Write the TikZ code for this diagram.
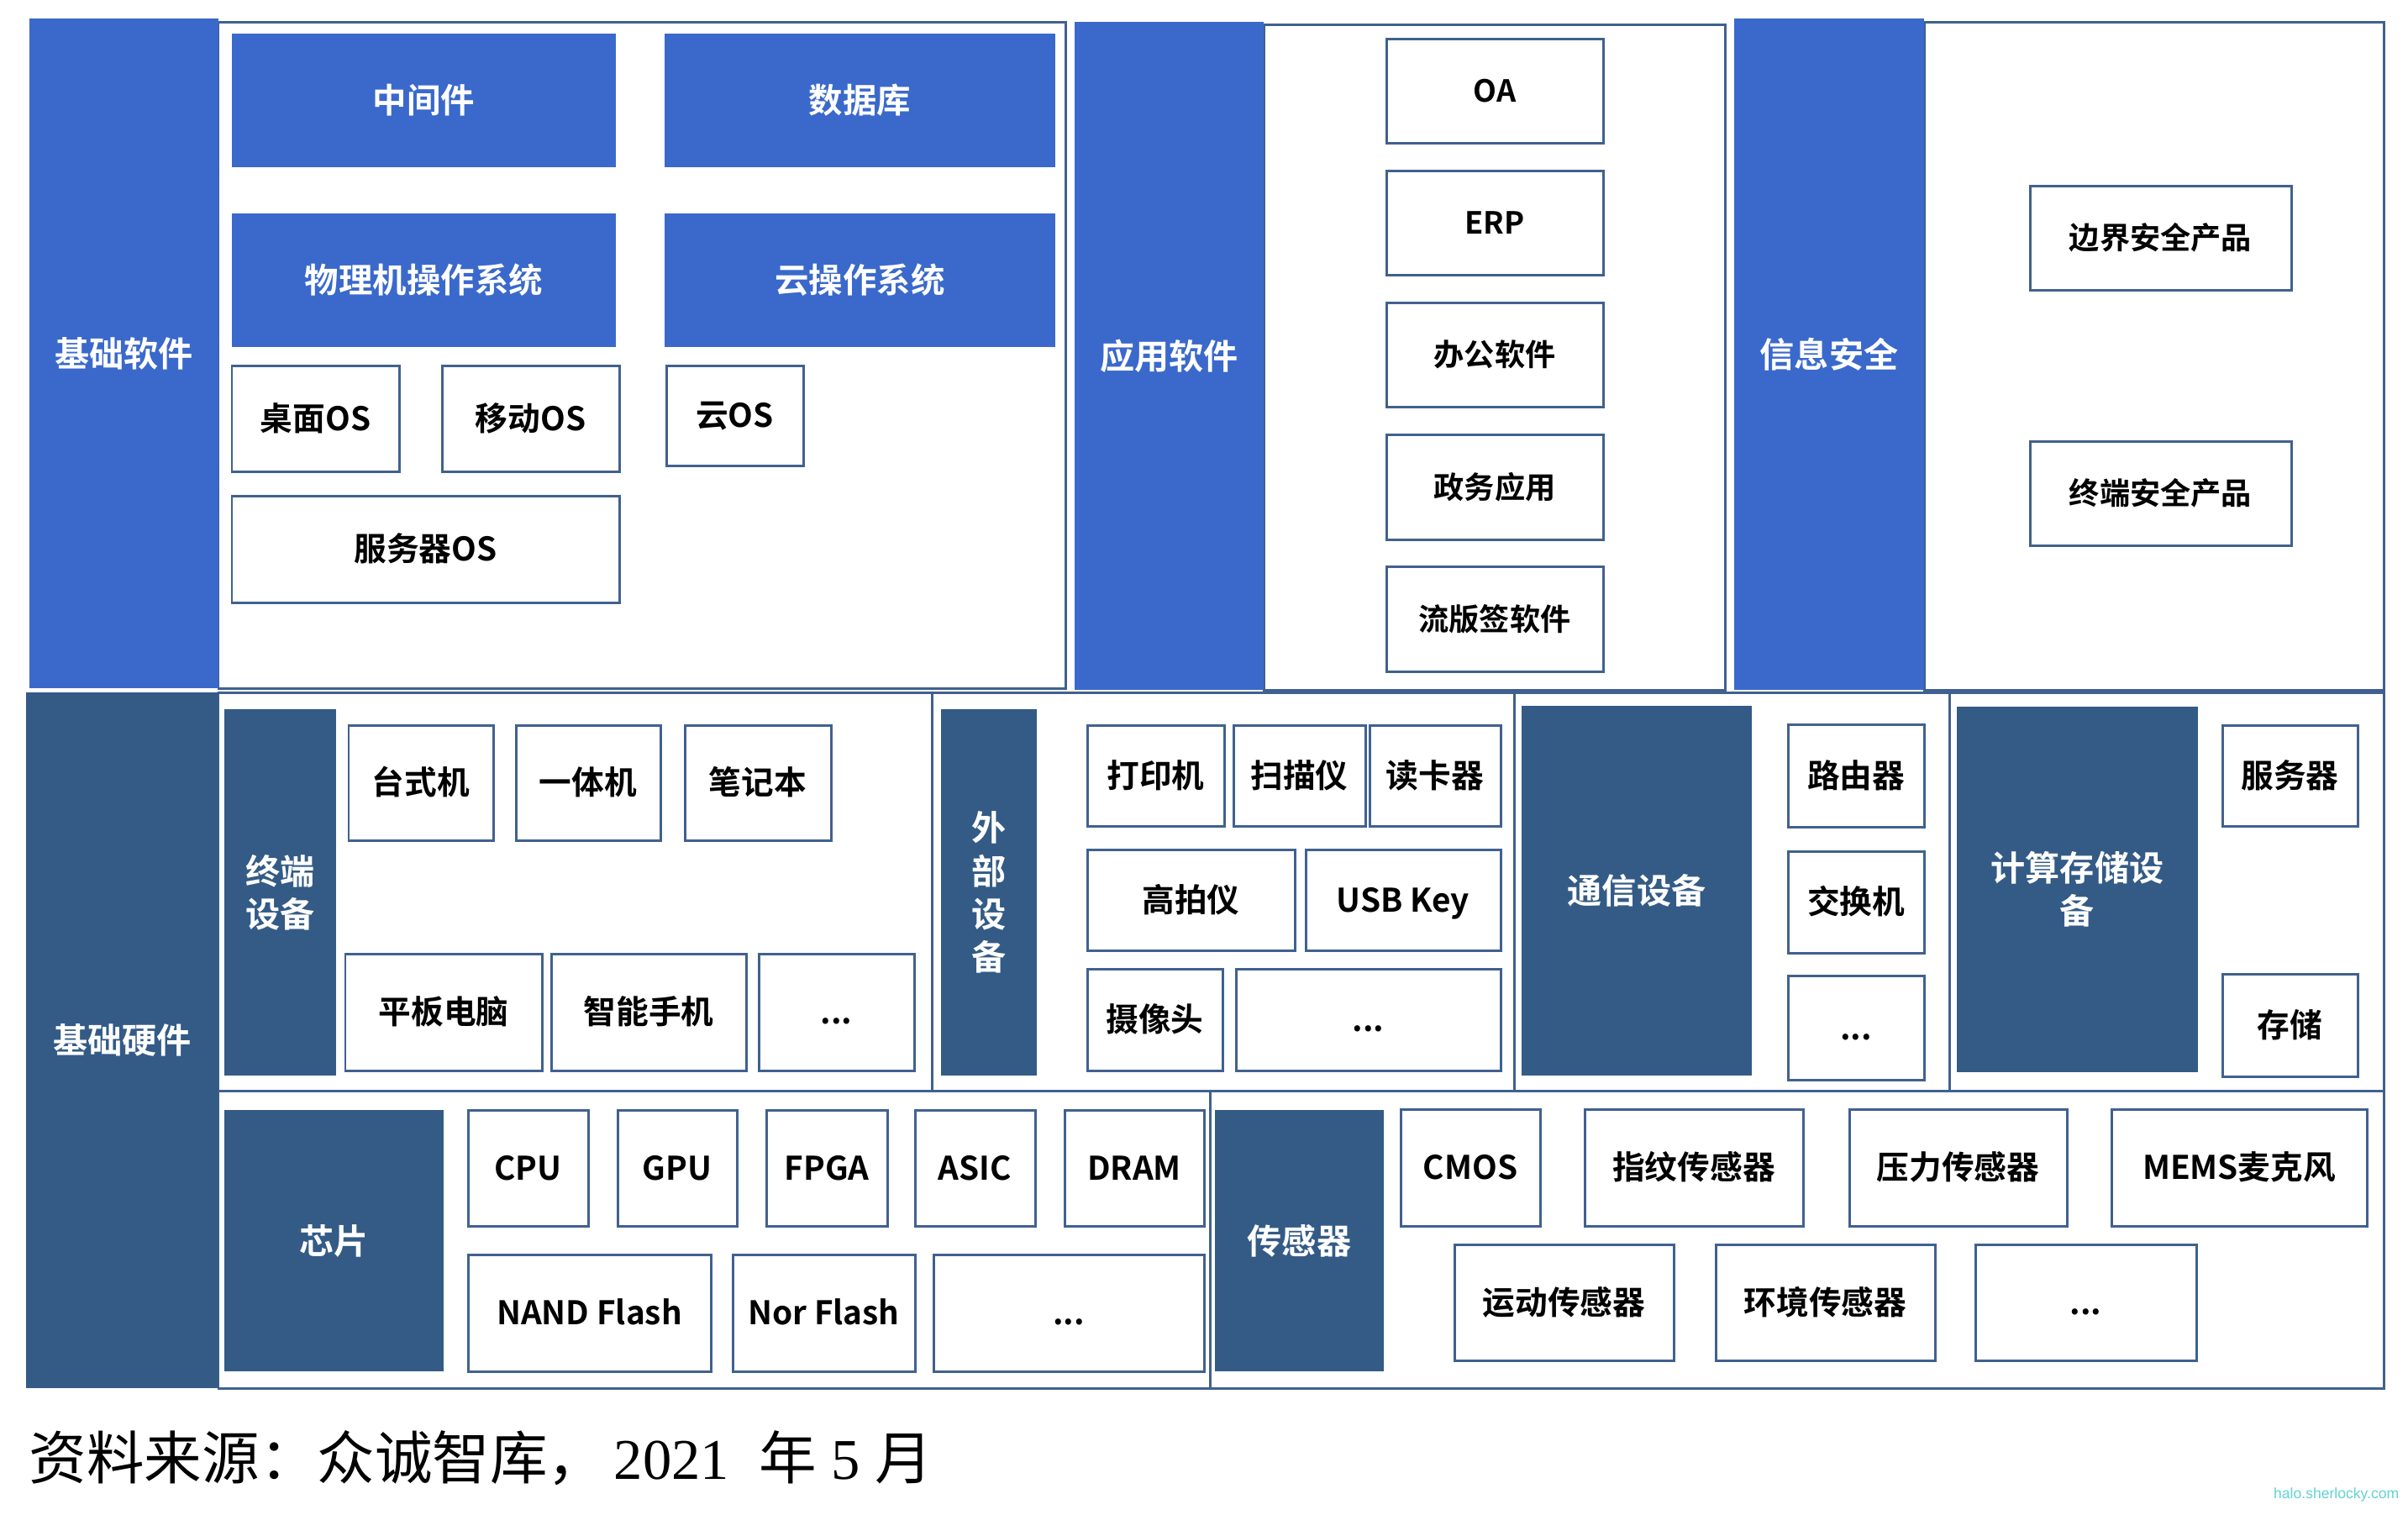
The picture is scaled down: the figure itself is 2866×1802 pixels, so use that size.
\documentclass[tikz,border=0pt]{standalone}
\usepackage{fontspec}
\setmainfont{Noto Sans CJK SC}[BoldFont={Noto Sans CJK SC Bold}]
\newfontfamily\capfont{Noto Sans CJK SC}
\newfontfamily\serifdigits{Liberation Serif}
\newfontfamily\wmfont{Liberation Sans}
\definecolor{swblue}{HTML}{3A69CB}
\definecolor{hwblue}{HTML}{335B86}
\definecolor{edge}{HTML}{40618F}
\definecolor{wmcol}{HTML}{63D3D3}
\newcommand{\stk}[1]{\vbox{\baselineskip=14.6pt\halign{\hfil##\hfil\cr#1\cr}}}
% box from (x1,y1) to (x2,y2), in pixel units
\newcommand{\bx}[6]{\node[#1, minimum width={(#4-#2)*0.01cm}, minimum height={(#5-#3)*0.01cm}] (#6) at ({(#2+#4)/2},{(#3+#5)/2})}
\tikzset{
  frame/.style={draw=edge, line width=0.85pt, inner sep=0pt, fill=white},
  swhead/.style={fill=swblue, draw=none, inner sep=0pt, text=white,
    font=\bfseries\fontsize{11.7}{14.6}\selectfont, text height=8.9pt, text depth=0pt},
  hwhead/.style={fill=hwblue, draw=none, inner sep=0pt, text=white,
    font=\bfseries\fontsize{11.7}{14.6}\selectfont, text height=8.9pt, text depth=0pt},
  two/.style={text height=23.5pt},
  four/.style={text height=52.7pt},
  swbox/.style={fill=swblue, draw=none, inner sep=0pt, text=white,
    font=\bfseries\fontsize{11.5}{14}\selectfont, text height=8.7pt, text depth=0pt},
  item/.style={draw=edge, line width=0.85pt, fill=white, inner sep=0pt, text=black,
    font=\bfseries\fontsize{11}{13}\selectfont, text height=8.2pt, text depth=0pt},
  smitem/.style={item, font=\bfseries\fontsize{10.3}{13}\selectfont, text height=7.7pt}
}
\begin{document}
\begin{tikzpicture}[x=0.01cm, y=-0.01cm]
\useasboundingbox[fill=white] (0,0) rectangle (2866,1802);

% ---------------- 基础软件 ----------------
\bx{frame}{260}{26}{1268}{819}{jcrjF} {};
\bx{swhead}{35}{22}{260}{819}{jcrj} {基础软件};
\bx{swbox}{276}{40}{733}{199}{zjj} {中间件};
\bx{swbox}{791}{40}{1256}{199}{sjk} {数据库};
\bx{swbox}{276}{254}{733}{413}{wlj} {物理机操作系统};
\bx{swbox}{791}{254}{1256}{413}{ycz} {云操作系统};
\bx{item}{276}{435}{475}{561}{zmos} {桌面OS};
\bx{item}{526}{435}{737}{561}{ydos} {移动OS};
\bx{item}{793}{435}{956}{554}{yos} {云OS};
\bx{item}{276}{590}{737}{717}{fwqos} {服务器OS};

% ---------------- 应用软件 ----------------
\bx{frame}{1504}{29}{2053}{821}{yyF} {};
\bx{swhead}{1279}{26}{1504}{821}{yyrj} {应用软件};
\bx{smitem}{1650}{46}{1908}{170}{oa} {OA};
\bx{smitem}{1650}{203}{1908}{327}{erp} {ERP};
\bx{smitem}{1650}{360}{1908}{484}{bgrj} {办公软件};
\bx{smitem}{1650}{517}{1908}{642}{zwyy} {政务应用};
\bx{smitem}{1650}{674}{1908}{799}{lbq} {流版签软件};

% ---------------- 信息安全 ----------------
\bx{frame}{2290}{26}{2837}{821}{xxF} {};
\bx{swhead}{2064}{22}{2290}{821}{xxaq} {信息安全};
\bx{smitem}{2416}{221}{2727}{345}{bjaq} {边界安全产品};
\bx{smitem}{2416}{525}{2727}{649}{zdaq} {终端安全产品};

% ---------------- 基础硬件 ----------------
\bx{frame}{260}{824}{1109}{1298}{zdF} {};
\bx{frame}{1109}{824}{1802}{1298}{wbF} {};
\bx{frame}{1802}{824}{2320}{1298}{txF} {};
\bx{frame}{2320}{824}{2837}{1298}{jsF} {};
\bx{frame}{260}{1298}{1440}{1652}{xpF} {};
\bx{frame}{1440}{1298}{2837}{1652}{cgF} {};
\bx{hwhead}{31}{824}{260}{1652}{jcyj} {基础硬件};

% 终端设备
\bx{hwhead, two}{267}{844}{400}{1280}{zdsb} {\stk{终端\cr 设备}};
\bx{item}{415}{863}{587}{1000}{tsj} {台式机};
\bx{item}{614}{863}{786}{1000}{ytj} {一体机};
\bx{item}{815}{863}{989}{1000}{bjb} {笔记本};
\bx{item}{411}{1135}{645}{1274}{pbdn} {平板电脑};
\bx{item}{656}{1135}{888}{1274}{znsj} {智能手机};
\bx{item}{903}{1135}{1088}{1274}{zdmore} {...};

% 外部设备
\bx{hwhead, four}{1120}{844}{1234}{1280}{wbsb} {\stk{外\cr 部\cr 设\cr 备}};
\bx{item}{1294}{863}{1457}{983}{dyj} {打印机};
\bx{item}{1468}{863}{1625}{983}{smy} {扫描仪};
\bx{item}{1630}{863}{1786}{983}{dkq} {读卡器};
\bx{item}{1294}{1011}{1541}{1131}{gpy} {高拍仪};
\bx{item}{1554}{1011}{1786}{1131}{usb} {USB Key};
\bx{item}{1294}{1153}{1455}{1274}{sxt} {摄像头};
\bx{item}{1471}{1153}{1786}{1274}{wbmore} {...};

% 通信设备
\bx{hwhead}{1811}{840}{2085}{1280}{txsb} {通信设备};
\bx{item}{2128}{862}{2290}{984}{lyq} {路由器};
\bx{item}{2128}{1013}{2290}{1134}{jhj} {交换机};
\bx{item}{2128}{1161}{2290}{1285}{txmore} {...};

% 计算存储设备
\bx{hwhead, two}{2329}{841}{2616}{1276}{jscc} {\stk{计算存储设\cr 备}};
\bx{item}{2645}{863}{2806}{983}{fwq} {服务器};
\bx{item}{2645}{1159}{2806}{1281}{cc} {存储};

% 芯片
\bx{hwhead}{267}{1321}{528}{1632}{xp} {芯片};
\bx{item}{557}{1321}{700}{1459}{cpu} {CPU};
\bx{item}{735}{1321}{877}{1459}{gpu} {GPU};
\bx{item}{912}{1321}{1056}{1459}{fpga} {FPGA};
\bx{item}{1089}{1321}{1232}{1459}{asic} {ASIC};
\bx{item}{1267}{1321}{1433}{1459}{dram} {DRAM};
\bx{item}{557}{1493}{846}{1632}{nand} {NAND Flash};
\bx{item}{872}{1493}{1089}{1632}{nor} {Nor Flash};
\bx{item}{1111}{1493}{1433}{1632}{xpmore} {...};

% 传感器
\bx{hwhead}{1446}{1321}{1647}{1632}{cgq} {传感器};
\bx{item}{1667}{1320}{1833}{1459}{cmos} {CMOS};
\bx{item}{1886}{1320}{2146}{1459}{zw} {指纹传感器};
\bx{item}{2201}{1320}{2460}{1459}{yl} {压力传感器};
\bx{item}{2513}{1320}{2817}{1459}{mems} {MEMS麦克风};
\bx{item}{1731}{1481}{1992}{1619}{yd} {运动传感器};
\bx{item}{2042}{1481}{2303}{1619}{hj} {环境传感器};
\bx{item}{2351}{1481}{2614}{1619}{cgmore} {...};

% caption and watermark
\node[anchor=west, inner sep=0pt, font=\capfont\fontsize{19.5}{22}\selectfont] (cap) at (34,1735)
  {资料来源：众诚智库，\hspace{3pt}{\serifdigits 2021}\hspace{10pt}年\hspace{5pt}{\serifdigits 5}\hspace{5pt}月};
\node[anchor=east, inner sep=0pt, text=wmcol, font=\wmfont\fontsize{5}{6}\selectfont] (wm) at (2856,1779) {halo.sherlocky.com};
\end{tikzpicture}
\end{document}
